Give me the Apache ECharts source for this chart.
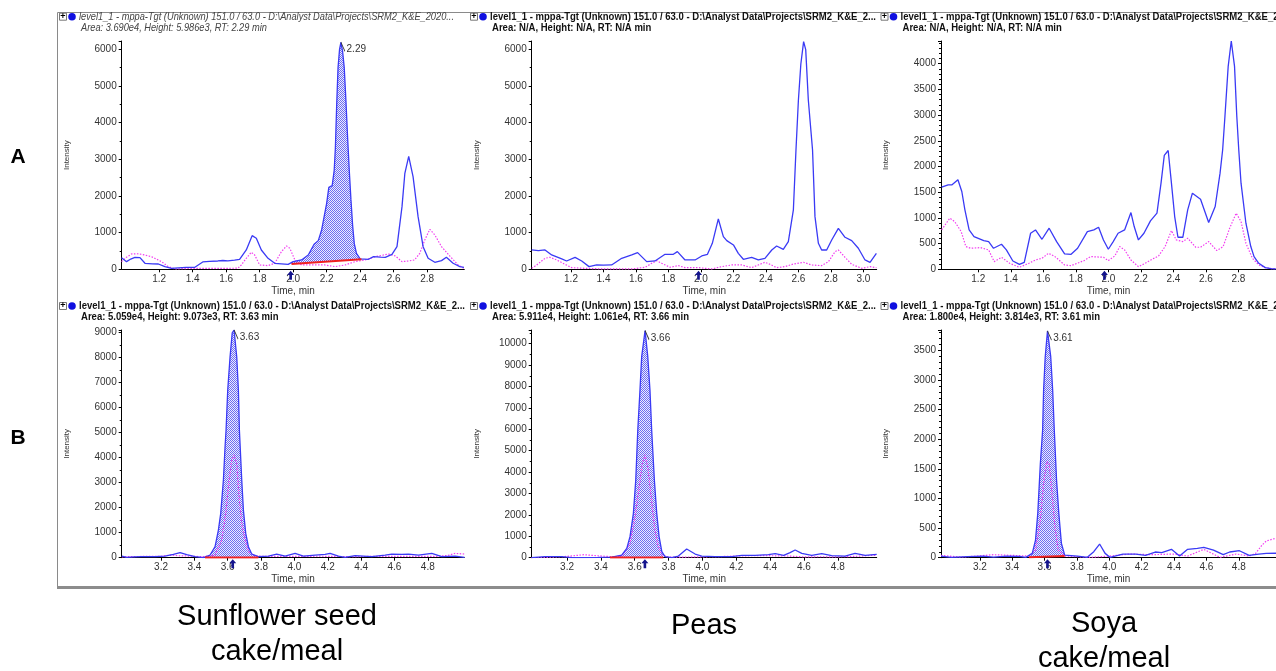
<!DOCTYPE html>
<html><head><meta charset="utf-8">
<script src="https://cdn.jsdelivr.net/npm/echarts@6/dist/echarts.min.js"></script>
<style>html,body{margin:0;padding:0;background:#fff}#c{width:1276px;height:671px}</style>
</head><body><div id="c"></div>
<script>
// ---------------- DATA ----------------
// Row A (time 1-3 min) : [time, intensity]
const a1Blue = [[0.975,318],[1.005,209],[1.03,280],[1.055,327],[1.085,318],[1.115,164],[1.16,150],[1.195,145],[1.234,73],[1.274,27],[1.313,40],[1.36,50],[1.413,55],[1.46,200],[1.5,215],[1.55,227],[1.58,240],[1.61,227],[1.65,250],[1.68,273],[1.72,527],[1.755,918],[1.78,845],[1.81,527],[1.85,300],[1.89,164],[1.93,150],[1.97,136],[2.0,209],[2.05,255],[2.09,391],[2.125,682],[2.15,782],[2.17,1073],[2.2,1800],[2.213,2236],[2.233,2280],[2.245,2700],[2.252,3300],[2.26,4500],[2.268,5500],[2.277,6000],[2.285,6190],[2.295,5950],[2.305,5500],[2.315,4600],[2.325,3600],[2.335,2700],[2.345,1900],[2.355,1200],[2.365,700],[2.378,436],[2.4,282],[2.45,273],[2.48,345],[2.52,330],[2.55,327],[2.59,409],[2.62,618],[2.65,1709],[2.667,2618],[2.69,3080],[2.716,2527],[2.746,1436],[2.776,618],[2.806,300],[2.846,191],[2.886,236],[2.915,327],[2.955,164],[2.995,73],[3.02,55]];
const a1Pink = [[0.975,209],[1.005,330],[1.035,418],[1.065,425],[1.095,409],[1.154,345],[1.214,209],[1.254,73],[1.294,9],[1.35,20],[1.41,27],[1.5,25],[1.6,27],[1.67,30],[1.69,118],[1.72,300],[1.75,464],[1.77,391],[1.8,118],[1.85,100],[1.89,164],[1.93,482],[1.96,636],[1.98,573],[2.01,255],[2.05,118],[2.09,118],[2.15,118],[2.19,118],[2.25,73],[2.31,118],[2.37,209],[2.43,255],[2.49,345],[2.53,380],[2.57,418],[2.61,364],[2.65,209],[2.69,227],[2.725,255],[2.756,436],[2.786,800],[2.816,1091],[2.846,936],[2.886,618],[2.935,364],[2.985,118],[3.02,27]];
const a2Blue = [[0.958,527],[0.999,509],[1.04,527],[1.081,391],[1.143,282],[1.173,227],[1.225,327],[1.266,227],[1.311,73],[1.358,118],[1.4,115],[1.45,118],[1.512,300],[1.574,391],[1.61,455],[1.666,209],[1.717,227],[1.779,409],[1.83,409],[1.855,482],[1.902,255],[1.964,255],[2.005,364],[2.04,409],[2.07,709],[2.107,1373],[2.138,891],[2.159,782],[2.2,664],[2.23,436],[2.261,273],[2.312,327],[2.353,255],[2.394,300],[2.436,527],[2.466,636],[2.507,545],[2.538,755],[2.569,1618],[2.585,3254],[2.6,4617],[2.615,5600],[2.632,6210],[2.645,5990],[2.661,4617],[2.687,3254],[2.702,1436],[2.723,709],[2.743,527],[2.774,527],[2.805,800],[2.846,1118],[2.887,873],[2.928,782],[2.969,573],[3.01,255],[3.041,191],[3.08,436]];
const a2Pink = [[0.958,27],[0.989,118],[1.04,300],[1.07,327],[1.112,255],[1.163,136],[1.204,45],[1.286,27],[1.41,9],[1.574,9],[1.656,55],[1.697,164],[1.728,236],[1.758,164],[1.81,55],[1.861,100],[1.902,45],[1.984,45],[2.066,9],[2.128,73],[2.189,118],[2.251,118],[2.312,45],[2.353,118],[2.394,191],[2.425,136],[2.466,45],[2.518,73],[2.569,145],[2.631,191],[2.682,118],[2.743,100],[2.785,209],[2.826,482],[2.846,527],[2.887,327],[2.928,136],[2.99,27],[3.041,73],[3.08,45]];
const a3Blue = [[0.975,1597],[1.015,1643],[1.039,1643],[1.075,1740],[1.099,1513],[1.118,1156],[1.144,766],[1.174,636],[1.234,558],[1.264,539],[1.294,409],[1.343,487],[1.373,377],[1.413,162],[1.453,97],[1.483,136],[1.522,701],[1.552,766],[1.592,584],[1.636,799],[1.682,539],[1.731,299],[1.771,292],[1.811,409],[1.871,734],[1.911,766],[1.94,818],[1.97,571],[2.0,390],[2.03,539],[2.06,701],[2.1,766],[2.139,1104],[2.159,831],[2.185,571],[2.219,701],[2.259,942],[2.299,1091],[2.324,1675],[2.344,2214],[2.368,2310],[2.388,1675],[2.408,1026],[2.428,623],[2.458,623],[2.488,1156],[2.517,1481],[2.567,1364],[2.617,909],[2.657,1221],[2.687,1870],[2.703,2324],[2.717,2973],[2.737,3947],[2.756,4440],[2.776,3947],[2.79,2973],[2.802,2324],[2.816,1675],[2.846,896],[2.876,442],[2.896,247],[2.925,117],[2.965,32],[3.0,15],[3.03,10]];
const a3Pink = [[0.975,766],[1.025,994],[1.055,929],[1.095,734],[1.124,442],[1.154,409],[1.214,422],[1.264,377],[1.298,149],[1.343,234],[1.393,117],[1.453,39],[1.512,117],[1.552,182],[1.592,214],[1.632,312],[1.672,247],[1.731,84],[1.771,71],[1.851,169],[1.891,247],[1.97,234],[2.0,169],[2.04,260],[2.07,442],[2.1,377],[2.139,182],[2.185,52],[2.219,104],[2.269,195],[2.309,260],[2.349,442],[2.388,753],[2.418,571],[2.458,539],[2.488,604],[2.537,429],[2.567,429],[2.617,539],[2.667,364],[2.706,442],[2.746,799],[2.786,1091],[2.816,929],[2.846,507],[2.886,214],[2.925,84],[2.965,32],[3.0,15],[3.03,10]];
// Row B (time 3-5 min)
const b1Blue = [[2.965,67],[2.994,13],[3.04,30],[3.084,40],[3.164,40],[3.224,67],[3.274,133],[3.314,200],[3.354,120],[3.404,40],[3.454,5],[3.494,107],[3.524,440],[3.544,1107],[3.558,1773],[3.574,3106],[3.584,4440],[3.59,5108],[3.6,6708],[3.614,8040],[3.627,9000],[3.638,9110],[3.654,8040],[3.664,6708],[3.67,5108],[3.684,3106],[3.694,1906],[3.708,973],[3.724,440],[3.744,147],[3.784,40],[3.844,67],[3.894,147],[3.944,67],[4.004,173],[4.054,67],[4.124,107],[4.184,133],[4.214,173],[4.264,67],[4.304,13],[4.364,80],[4.464,40],[4.544,107],[4.584,147],[4.644,133],[4.684,147],[4.744,107],[4.824,173],[4.884,40],[4.964,67],[5.02,13]];
const b1Pink = [[2.965,27],[3.0,45],[3.1,50],[3.2,55],[3.254,107],[3.3,80],[3.364,67],[3.45,40],[3.524,107],[3.564,707],[3.588,1773],[3.608,3106],[3.624,3906],[3.638,4106],[3.654,3773],[3.668,2440],[3.684,1373],[3.704,707],[3.724,240],[3.764,67],[3.85,50],[3.95,55],[4.05,50],[4.15,60],[4.25,50],[4.35,45],[4.45,50],[4.55,55],[4.65,50],[4.75,55],[4.85,50],[4.92,90],[4.964,173],[5.02,147]];
const b2Blue = [[2.99,0],[3.0,5],[3.07,47],[3.168,47],[3.228,0],[3.287,0],[3.385,16],[3.464,31],[3.523,125],[3.553,436],[3.572,982],[3.592,2072],[3.606,3630],[3.618,5967],[3.631,7836],[3.641,9393],[3.661,10610],[3.677,9393],[3.69,7836],[3.7,5967],[3.716,3630],[3.73,2072],[3.744,982],[3.76,280],[3.779,47],[3.819,0],[3.858,78],[3.907,405],[3.957,171],[3.996,78],[4.075,47],[4.173,47],[4.233,109],[4.311,109],[4.39,140],[4.43,187],[4.48,109],[4.518,234],[4.548,358],[4.587,203],[4.646,109],[4.705,187],[4.764,93],[4.843,78],[4.902,203],[4.962,109],[5.03,156]];
const b2Pink = [[2.99,0],[3.1,20],[3.2,60],[3.3,140],[3.38,90],[3.464,47],[3.523,47],[3.572,670],[3.602,1916],[3.626,3318],[3.645,4409],[3.661,4799],[3.677,4253],[3.697,2851],[3.716,1449],[3.736,592],[3.76,125],[3.8,31],[3.9,31],[4.0,40],[4.1,50],[4.2,80],[4.3,93],[4.4,93],[4.5,80],[4.6,40],[4.7,45],[4.8,40],[4.9,60],[5.0,109],[5.03,110]];
const b3Blue = [[2.96,28],[3.024,6],[3.124,17],[3.224,28],[3.284,11],[3.364,28],[3.444,23],[3.484,6],[3.524,73],[3.544,298],[3.558,749],[3.574,1593],[3.588,2157],[3.594,2833],[3.604,3395],[3.618,3830],[3.638,3395],[3.65,2833],[3.66,2157],[3.674,1312],[3.688,749],[3.704,242],[3.724,45],[3.804,28],[3.864,6],[3.904,101],[3.94,231],[3.974,73],[4.004,6],[4.084,62],[4.164,62],[4.224,39],[4.284,96],[4.324,84],[4.384,141],[4.434,28],[4.484,141],[4.544,158],[4.584,175],[4.644,129],[4.704,51],[4.744,96],[4.804,118],[4.864,39],[4.924,62],[4.97,73],[5.03,75]];
const b3Pink = [[2.96,39],[3.08,11],[3.184,28],[3.284,51],[3.404,39],[3.504,28],[3.544,129],[3.574,636],[3.594,1255],[3.614,1621],[3.628,1593],[3.644,1143],[3.664,524],[3.684,129],[3.724,28],[3.884,6],[4.004,28],[4.124,62],[4.264,51],[4.404,62],[4.484,28],[4.584,141],[4.684,6],[4.784,62],[4.864,28],[4.904,73],[4.944,214],[4.97,282],[5.03,330]];

// Integration baselines: [[t0,v0],[t1,v1]] (null = not integrated)
const baselines = [[[1.99,145],[2.408,273]], null, null, [[3.464,13],[3.784,13]], [[3.454,10],[3.769,10]], [[3.504,6],[3.724,28]]];
// Apex labels: [time, intensity, text]
const apexLabels = [[2.285,6190,'2.29'], null, null, [3.638,9110,'3.63'], [3.661,10610,'3.66'], [3.618,3830,'3.61']];
// Expected RT arrow positions (min)
const arrowTimes = [1.985, 1.985, 1.976, 3.63, 3.66, 3.618];
// Axis ranges
const xRanges = [[0.976,3.022],[0.958,3.082],[0.971,3.031],[2.964,5.019],[2.991,5.03],[2.96,5.03]];
const yMax = [6226, 6226, 4440, 9110, 10640, 3846];
const yStep = [1000, 1000, 500, 1000, 1000, 500];
const xTicksA1 = [1.2,1.4,1.6,1.8,2.0,2.2,2.4,2.6,2.8];
const xTicksA2 = [1.2,1.4,1.6,1.8,2.0,2.2,2.4,2.6,2.8,3.0];
const xTicksB = [3.2,3.4,3.6,3.8,4.0,4.2,4.4,4.6,4.8];
const xTickSets = [xTicksA1, xTicksA2, xTicksA1, xTicksB, xTicksB, xTicksB];
// Texts
const headLine1 = [
  'level1_1 - mppa-Tgt (Unknown) 151.0 / 63.0 - D:\\Analyst Data\\Projects\\SRM2_K&E_2020...',
  'level1_1 - mppa-Tgt (Unknown) 151.0 / 63.0 - D:\\Analyst Data\\Projects\\SRM2_K&E_2...',
  'level1_1 - mppa-Tgt (Unknown) 151.0 / 63.0 - D:\\Analyst Data\\Projects\\SRM2_K&E_2...',
  'level1_1 - mppa-Tgt (Unknown) 151.0 / 63.0 - D:\\Analyst Data\\Projects\\SRM2_K&E_2...',
  'level1_1 - mppa-Tgt (Unknown) 151.0 / 63.0 - D:\\Analyst Data\\Projects\\SRM2_K&E_2...',
  'level1_1 - mppa-Tgt (Unknown) 151.0 / 63.0 - D:\\Analyst Data\\Projects\\SRM2_K&E_2...'];
const headLine2 = [
  'Area: 3.690e4, Height: 5.986e3, RT: 2.29 min',
  'Area: N/A, Height: N/A, RT: N/A min',
  'Area: N/A, Height: N/A, RT: N/A min',
  'Area: 5.059e4, Height: 9.073e3, RT: 3.63 min',
  'Area: 5.911e4, Height: 1.061e4, RT: 3.66 min',
  'Area: 1.800e4, Height: 3.814e3, RT: 3.61 min'];
const rowLetters = ['A', 'B'];
const sampleNames = [['Sunflower seed', 'cake/meal'], ['Peas'], ['Soya', 'cake/meal']];

// ---------------- LAYOUT ----------------
const blues = [a1Blue, a2Blue, a3Blue, b1Blue, b2Blue, b3Blue];
const pinks = [a1Pink, a2Pink, a3Pink, b1Pink, b2Pink, b3Pink];
const gridBoxes = [
  {left:121.7, top:41, width:342.6, height:228.3},
  {left:531.7, top:41, width:345, height:228.3},
  {left:941, top:41, width:345, height:228.3},
  {left:121.7, top:330, width:342.6, height:227.7},
  {left:531.7, top:330, width:345, height:227.7},
  {left:941, top:330, width:345, height:227.7}];
const panelLefts = [57, 468, 878.5, 57, 468, 878.5];
const headY1 = [16.7, 16.7, 16.7, 306, 306, 306];
const headY2 = [28.5, 28.5, 28.5, 317, 317, 317];

const BLUE = '#3a3af5', PINK = '#f23cf0', RED = '#f02020';
const FONT = "'Liberation Sans', Arial, sans-serif";
const HFONT_B = "bold 10.5px 'Liberation Sans', Arial, sans-serif";
const HFONT_I = "italic 10.5px 'Liberation Sans', Arial, sans-serif";

// measure header widths so they can be condensed like the original narrow UI font
const mctx = document.createElement('canvas').getContext('2d');
mctx.font = HFONT_B;
const scaleB = 386 / mctx.measureText(headLine1[1]).width;
mctx.font = HFONT_I;
const scaleI = 375 / mctx.measureText(headLine1[0]).width;

// hatch pattern for integrated area
const pc = document.createElement('canvas');
pc.width = 2; pc.height = 2;
const pctx = pc.getContext('2d');
pctx.fillStyle = '#ececff'; pctx.fillRect(0,0,2,2);
pctx.fillStyle = '#6d6df0'; pctx.fillRect(0,0,1,1); pctx.fillRect(1,1,1,1);
const hatch = {image: pc, repeat: 'repeat'};

function interp(arr, t) {
  for (let i = 0; i < arr.length - 1; i++) {
    const [x0,y0] = arr[i], [x1,y1] = arr[i+1];
    if (t >= x0 && t <= x1) return y0 + (y1 - y0) * (t - x0) / (x1 - x0);
  }
  return 0;
}

const grids = [], xAxes = [], yAxes = [], series = [];
for (let i = 0; i < 6; i++) {
  grids.push(Object.assign({containLabel:false}, gridBoxes[i]));
  xAxes.push({
    type:'value', gridIndex:i, min:xRanges[i][0], max:xRanges[i][1],
    axisLine:{show:true, onZero:false, lineStyle:{color:'#000', width:1}},
    axisTick:{show:true, customValues:xTickSets[i], length:3, lineStyle:{color:'#000'}},
    axisLabel:{show:true, customValues:xTickSets[i], formatter:v=>Number(v).toFixed(1), fontSize:10, color:'#333', margin:5, fontFamily:FONT},
    splitLine:{show:false},
    name:'Time, min', nameLocation:'middle', nameGap:17,
    nameTextStyle:{fontSize:10, color:'#333', fontFamily:FONT}
  });
  const st = yStep[i];
  yAxes.push({
    type:'value', gridIndex:i, min:0, max:yMax[i], interval:st,
    axisLine:{show:true, lineStyle:{color:'#000', width:1}},
    axisTick:{show:true, length:3, lineStyle:{color:'#000'}},
    minorTick:{show:true, splitNumber: st === 500 ? 5 : 2, length:2, lineStyle:{color:'#000'}},
    axisLabel:{fontSize:10, color:'#333', margin:5, fontFamily:FONT, showMaxLabel:false,
      formatter:v => (Math.abs(v/st - Math.round(v/st)) < 1e-6 ? String(v) : '')},
    splitLine:{show:false},
    name:'Intensity', nameLocation:'middle', nameGap:51,
    nameTextStyle:{fontSize:8, color:'#333', fontFamily:FONT}
  });
  const bl = baselines[i];
  if (bl) {
    const blue = blues[i];
    const [p0, p1] = bl;
    const pts = [[p0[0], interp(blue, p0[0])]];
    blue.forEach(p => { if (p[0] > p0[0] && p[0] < p1[0]) pts.push(p); });
    pts.push([p1[0], interp(blue, p1[0])]);
    pts.push(p1); pts.push(p0);
    series.push({
      type:'custom', xAxisIndex:i, yAxisIndex:i, silent:true, z:1,
      data:[[p0[0], p0[1]]],
      renderItem:(params, api) => ({type:'polygon', shape:{points:pts.map(p => api.coord(p))}, style:{fill:hatch, stroke:null}})
    });
  }
  series.push({
    type:'line', xAxisIndex:i, yAxisIndex:i, data:pinks[i], showSymbol:false, silent:true, z:2,
    lineStyle:{color:PINK, width:1.2, type:[1.5,1.5]}
  });
  const mp = [{
    coord:[arrowTimes[i], 0], symbol:'path://M4,0 L8,5 L5.5,5 L5.5,11 L2.5,11 L2.5,5 L0,5 Z',
    symbolSize:[7,9], symbolOffset:[0,6], itemStyle:{color:'#14148c'}, label:{show:false}
  }];
  const ap = apexLabels[i];
  if (ap) {
    mp.push({
      coord:[ap[0], ap[1]], symbol:'path://M0,0 L4,9', symbolSize:[4,9], symbolOffset:[2,4.5],
      itemStyle:{color:'rgba(0,0,0,0)', borderColor:'#333', borderWidth:1},
      label:{show:true, formatter:ap[2], position:[6,3], fontSize:10, color:'#333', fontFamily:FONT}
    });
  }
  series.push({
    type:'line', xAxisIndex:i, yAxisIndex:i, data:blues[i], showSymbol:false, silent:true, z:3,
    lineStyle:{color:BLUE, width:1.3},
    markPoint:{silent:true, animation:false, data:mp}
  });
  if (bl) {
    series.push({
      type:'line', xAxisIndex:i, yAxisIndex:i, data:bl, showSymbol:false, silent:true, z:4,
      lineStyle:{color:RED, width:2}
    });
  }
}

// graphics: frame, headers, captions
const graphic = [];
graphic.push({type:'rect', shape:{x:57.5, y:12.5, width:1230, height:575}, style:{fill:'none', stroke:'#8a8a8a', lineWidth:1}, z:-1});
graphic.push({type:'line', shape:{x1:57, y1:587.5, x2:1276, y2:587.5}, style:{stroke:'#8c8c8c', lineWidth:3}});
for (let i = 0; i < 6; i++) {
  const L = panelLefts[i], y1 = headY1[i], y2 = headY2[i];
  graphic.push({type:'rect', shape:{x:L+2.5, y:y1-3.5, width:7, height:7}, style:{fill:'#fff', stroke:'#777', lineWidth:1}});
  graphic.push({type:'text', x:L+6, y:y1, style:{text:'+', font:'bold 9px ' + FONT, fill:'#000', align:'center', verticalAlign:'middle'}});
  graphic.push({type:'circle', shape:{cx:L+15, cy:y1, r:3.8}, style:{fill:'#1010e0'}});
  const ital = i === 0;
  const sc = ital ? scaleI : scaleB;
  graphic.push({type:'text', x:L+22, y:y1, scaleX:sc, style:{text:headLine1[i],
    font: ital ? HFONT_I : HFONT_B, fill: ital ? '#444' : '#111', verticalAlign:'middle'}});
  graphic.push({type:'text', x:L+24, y:y2, scaleX:sc, style:{text:headLine2[i],
    font: ital ? HFONT_I : HFONT_B, fill: ital ? '#444' : '#111', verticalAlign:'middle'}});
}
graphic.push({type:'text', x:18, y:157, style:{text:rowLetters[0], font:'bold 21px ' + FONT, fill:'#000', align:'center', verticalAlign:'middle'}});
graphic.push({type:'text', x:18, y:438, style:{text:rowLetters[1], font:'bold 21px ' + FONT, fill:'#000', align:'center', verticalAlign:'middle'}});
const capX = [277, 704, 1104];
const capY = [[617, 652], [626], [624, 659]];
sampleNames.forEach((lines, k) => lines.forEach((s, j) => {
  graphic.push({type:'text', x:capX[k], y:capY[k][j], style:{text:s, font:'29px ' + FONT, fill:'#000', align:'center', verticalAlign:'middle'}});
}));

const chart = echarts.init(document.getElementById('c'), null, {renderer:'canvas'});
chart.setOption({animation:false, backgroundColor:'#fff', grid:grids, xAxis:xAxes, yAxis:yAxes, series:series, graphic:graphic});
</script></body></html>
